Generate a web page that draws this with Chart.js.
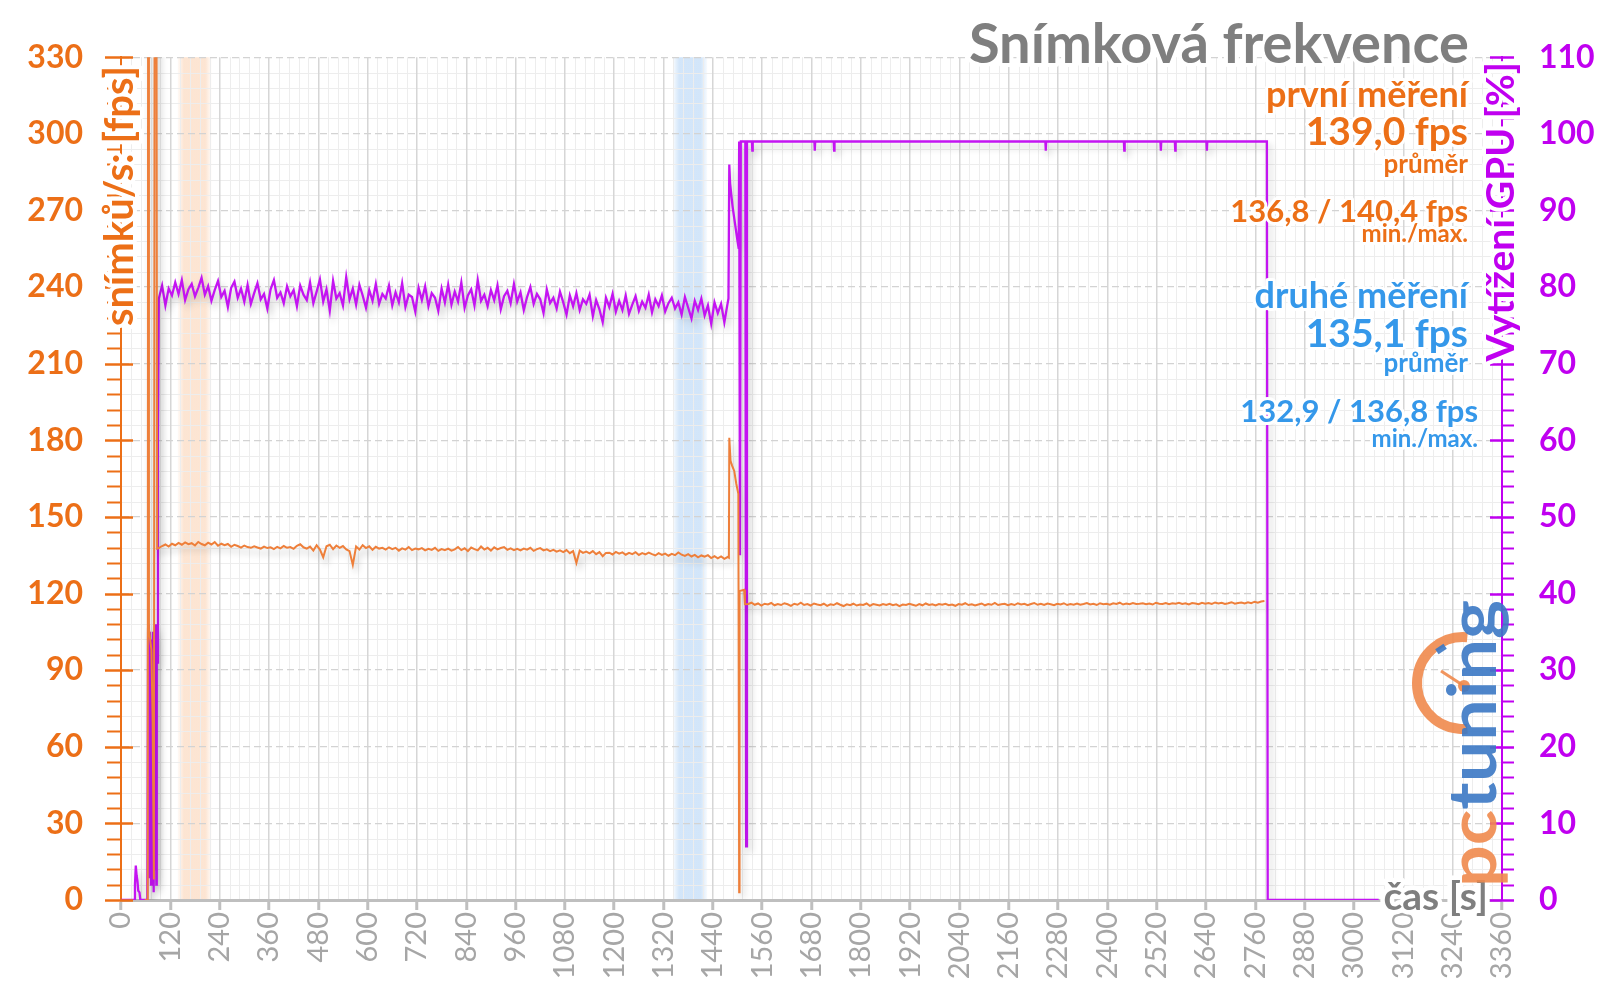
<!DOCTYPE html>
<html>
<head>
<meta charset="utf-8">
<title>Snímková frekvence</title>
<script src="https://cdn.jsdelivr.net/npm/chart.js@4.4.1/dist/chart.umd.min.js"></script>
<style>
  html, body { margin: 0; padding: 0; background: #fff; }
  #wrap { width: 1600px; height: 998px; }
</style>
</head>
<body>
<div id="wrap"><canvas id="chart" width="1600" height="998"></canvas></div>
<script>
// ---- values ----
const timeMax = 3360;
const timeStep = 120;
const fpsMax = 330;
const fpsStep = 30;
const gpuMax = 110;
const gpuStep = 10;

// fps (orange) - start-up spikes, [s] / [fps]
const fpsLeadTime = [58, 65, 66, 68, 71, 74, 77, 80, 82, 86, 88];
const fpsLeadValue = [0, 0, 400, 106, 102, 98, 70, 8, 400, 400, 137.6];

// first run, one sample every 8 s from 92 s
const runStart = 92;
const runStep = 8;
const fpsRun1 = [
  137.8, 138.6, 139.2, 138.4, 139.5, 138.9, 139.8, 139.1, 140.0, 139.3,
  139.7, 138.8, 140.2, 139.4, 138.9, 139.9, 139.2, 140.1, 138.7, 139.5,
  138.9, 139.4, 138.3, 139.1, 138.6, 138.0, 138.8, 138.2, 137.9, 138.5,
  138.0, 137.6, 138.4, 137.8, 138.1, 137.4, 138.3, 137.7, 138.6, 137.9,
  138.2, 137.5, 138.7, 139.3, 138.1, 137.6, 138.4, 136.8, 138.9, 137.2,
  134.2, 138.5, 139.1, 137.4, 138.8, 137.9, 138.6, 137.3, 136.6, 131.2,
  138.4, 137.2, 138.9, 137.8, 138.5, 137.1, 138.3, 137.6, 137.9, 137.2,
  138.1, 137.4, 137.9, 136.8, 137.7, 137.2, 138.2, 137.0, 137.6, 137.3,
  137.8, 136.9, 137.5, 137.1, 137.9, 136.7, 137.4, 137.0, 137.6, 136.8,
  137.3, 138.2, 137.0, 137.7, 136.6, 138.0, 137.4, 136.9, 138.4, 137.2,
  137.9, 136.8, 138.1, 137.3, 137.8, 138.2, 137.1, 137.7, 137.0, 137.5,
  136.9, 137.6, 137.2, 137.9, 136.7, 137.4, 137.8, 136.9, 137.3, 136.6,
  137.1, 136.4, 136.9, 136.2, 137.0, 135.8, 136.6, 132.0, 136.8, 135.9,
  136.4, 135.7, 136.6, 135.4, 136.2, 134.6, 135.9, 136.0, 135.3, 136.3,
  135.6, 136.1, 135.2, 135.9, 135.4, 136.2, 135.1, 135.8, 135.3, 136.0,
  135.4, 134.9, 135.8, 135.1, 135.6, 134.8, 135.5, 135.0, 136.1, 135.2,
  134.7, 135.4, 134.5, 135.1, 134.2, 134.9, 134.4, 135.0, 133.9, 134.6,
  133.8, 134.5, 133.6, 134.3
];

// switch-over between the two measurements
const fpsMidTime = [1479, 1480, 1483, 1487, 1492, 1497, 1502, 1504, 1505, 1516, 1518];
const fpsMidValue = [134.0, 181, 172, 170, 168, 163, 159, 3, 121, 121.5, 115.8];

// second run, one sample every 8 s from 1526 s
const run2Start = 1526;
const fpsRun2 = [
  115.9, 116.4, 115.6, 116.1, 115.3, 116.0, 115.7, 116.3, 115.4, 115.9,
  115.5, 116.2, 115.8, 115.2, 116.0, 115.6, 116.4, 115.5, 115.9, 115.3,
  116.1, 115.7, 115.4, 116.0, 115.2, 115.8, 115.5, 116.2, 115.6, 115.1,
  115.8, 115.4, 116.0, 115.3, 115.7, 115.5, 116.1, 115.2, 115.9, 115.6,
  115.3, 115.9, 115.5, 116.0, 115.4, 115.8, 115.1, 115.7, 115.5, 116.0,
  115.6, 115.2, 115.9, 115.4, 116.1, 115.5, 115.8, 115.3, 115.9, 115.6,
  116.0, 115.4, 115.7, 115.2, 115.9, 115.6, 116.2, 115.5, 115.8, 115.3,
  115.7, 116.1, 115.4, 115.9, 115.6, 116.3, 115.5, 115.8, 116.0, 115.4,
  115.9, 115.5, 116.2, 115.7, 116.0, 115.4, 115.9, 116.3, 115.6, 116.0,
  115.5, 116.1, 115.8, 115.4, 116.0, 115.7, 116.2, 115.5, 115.9, 115.6,
  116.1, 115.6, 115.9, 116.3, 115.7, 116.0, 115.5, 116.2, 115.8, 116.0,
  115.6, 116.2, 115.9, 116.4, 115.7, 116.1, 115.8, 116.3, 115.9, 116.0,
  116.2, 115.8, 116.1, 115.7, 116.4, 116.0, 115.9, 116.3, 115.8, 116.2,
  116.0, 116.4, 115.9, 116.2, 115.7, 116.3, 116.1, 115.8, 116.4, 116.0,
  116.3, 115.9, 116.5, 116.1, 116.4, 115.9, 116.2, 116.6, 116.0, 116.3,
  116.5, 116.1, 116.6, 116.2, 116.8, 116.4, 116.9, 117.1
];

// GPU load (purple) - start-up, [s] / [%]
const gpuLeadTime = [0, 32, 34, 36, 38, 40, 42, 45, 47, 64, 66, 67, 68, 69, 70, 71, 72, 73, 74, 75, 76, 77, 78, 79, 80, 81, 82, 83, 84, 85, 86, 87, 88, 90];
const gpuLeadValue = [0, 0, 2, 4.5, 3.2, 2.5, 1.2, 1, 0, 0, 36, 31, 34, 3, 35, 30, 33, 2, 34, 32, 8, 33, 35, 1, 31, 34, 30, 4, 33, 36, 2, 34, 31, 60];

// first run, same sampling as fpsRun1
const gpuRun1 = [
  78.5, 80.2, 77.6, 79.8, 78.9, 80.6, 79.1, 80.9, 78.3, 79.7,
  80.4, 78.8, 79.9, 81.2, 79.0, 80.1, 78.2, 79.6, 80.8, 78.7,
  79.5, 77.4, 79.9, 80.7, 78.6, 79.8, 78.1, 80.3, 77.8, 79.2,
  80.5, 78.4, 79.1, 77.2, 79.7, 80.9, 78.6, 79.3, 77.9, 80.1,
  78.8, 79.6, 77.5, 80.2, 79.0, 78.3, 80.6, 77.9, 79.4, 81.0,
  78.1, 79.7, 76.9, 80.8, 78.5, 79.2, 77.6, 81.3, 78.4, 79.8,
  77.7, 80.3, 78.9, 77.3, 79.6, 78.2, 80.4, 77.8, 79.1, 78.5,
  80.2, 77.6, 79.3, 78.0, 80.5, 77.4, 79.0, 78.7, 76.8, 79.9,
  78.3, 80.1, 77.5, 79.2, 78.6, 76.9, 79.8, 78.0, 80.3, 77.7,
  79.4, 78.1, 80.6, 77.3, 78.9, 79.7, 77.6, 80.9, 78.2, 79.0,
  77.5, 79.6, 78.3, 80.2, 77.1, 78.8, 79.5, 77.9, 80.4, 78.1,
  79.3, 77.0, 78.7, 80.0, 77.8, 79.1, 78.4, 76.6, 79.7, 77.9,
  78.6, 77.2, 79.4, 78.0, 76.4, 78.9, 77.5, 79.2, 77.0, 78.4,
  77.8, 79.0, 76.2, 78.3, 77.1, 75.4, 78.6, 77.4, 79.1, 76.8,
  78.2, 77.0, 78.9, 76.5, 77.7, 78.8, 76.9, 78.1, 77.3, 79.0,
  76.7, 78.4, 77.5, 78.9, 76.8, 77.9, 78.6, 77.2, 78.0, 76.4,
  78.7, 77.3, 75.9, 78.2, 77.0, 78.5, 76.3, 77.6, 75.2, 78.0,
  76.6, 77.8, 75.4, 77.9
];

// switch-over, second run at ~99 % with a few small dips, then idle
const gpuTailTime = [1478, 1480, 1482, 1485, 1488, 1492, 1496, 1500, 1503,
  1504, 1506, 1508, 1519, 1521, 1523,
  1535, 1536, 1537, 1687, 1688, 1689, 1734, 1735, 1736, 2249, 2250, 2251,
  2440, 2441, 2442, 2529, 2530, 2531, 2564, 2565, 2566, 2641, 2642, 2643,
  2788, 2790, 3060];
const gpuTailValue = [78.5, 96, 93.5, 92, 90.5, 89, 87.5, 86, 85,
  99, 45, 99, 99, 7, 99,
  99, 97.8, 99, 99, 97.8, 99, 99, 97.8, 99, 99, 97.8, 99,
  99, 97.8, 99, 99, 97.8, 99, 99, 97.8, 99, 99, 97.8, 99,
  99, 0, 0];

// measured windows (shaded bands), [s]
const bandFrom = [138, 1343];
const bandTo = [220, 1426];

// ---- styles ----
const ORANGE = '#EC6F17';
const ORANGE_LINE = '#EE7F3A';
const PURPLE = '#C000F0';
const PURPLE_LINE = '#C414F2';
const BLUE = '#3598EA';
const GRAY = '#7F7F7F';
const bandRgb = ['252,226,206', '206,227,249'];
const minorTime = 24;
const minorFps = 6;
const minorGpu = 2;

Chart.defaults.font.family = 'Lato';

function pairPoints(times, values) {
    return times.map((t, i) => ({ x: t, y: values[i] }));
}
function runPoints(start, step, values) {
    return values.map((v, i) => ({ x: start + i * step, y: v }));
}

const fpsPoints = [
    ...pairPoints(fpsLeadTime, fpsLeadValue),
    ...runPoints(runStart, runStep, fpsRun1),
    ...pairPoints(fpsMidTime, fpsMidValue),
    ...runPoints(run2Start, runStep, fpsRun2)
];
const gpuPoints = [
    ...pairPoints(gpuLeadTime, gpuLeadValue),
    ...runPoints(runStart, runStep, gpuRun1),
    ...pairPoints(gpuTailTime, gpuTailValue)
];

function haloText(ctx, text, x, y, font, color, align, halo) {
    ctx.font = font;
    ctx.textAlign = align;
    ctx.textBaseline = 'alphabetic';
    ctx.lineJoin = 'round';
    ctx.lineWidth = halo;
    ctx.strokeStyle = '#fff';
    ctx.strokeText(text, x, y);
    ctx.fillStyle = color;
    ctx.fillText(text, x, y);
}

const shadowPlugin = {
    id: 'shadow',
    beforeDatasetDraw(chart) {
        const ctx = chart.ctx;
        ctx.save();
        ctx.shadowColor = 'rgba(0,0,0,0.22)';
        ctx.shadowBlur = 7;
        ctx.shadowOffsetX = 3;
        ctx.shadowOffsetY = 5;
    },
    afterDatasetDraw(chart) {
        chart.ctx.restore();
    }
};

const decorPlugin = {
    id: 'decor',
    beforeDraw(chart) {
        const { ctx, chartArea: a, scales: { x, y } } = chart;
        ctx.save();
        // shaded measuring windows
        bandFrom.forEach((from, i) => {
            const x0 = x.getPixelForValue(from);
            const x1 = x.getPixelForValue(bandTo[i]);
            const g = ctx.createLinearGradient(x0, 0, x1, 0);
            g.addColorStop(0, 'rgba(' + bandRgb[i] + ',0.15)');
            g.addColorStop(0.18, 'rgba(' + bandRgb[i] + ',0.9)');
            g.addColorStop(0.82, 'rgba(' + bandRgb[i] + ',0.9)');
            g.addColorStop(1, 'rgba(' + bandRgb[i] + ',0.15)');
            ctx.fillStyle = g;
            ctx.fillRect(x0, a.top, x1 - x0, a.bottom - a.top);
        });
        // minor grid
        ctx.strokeStyle = '#EDEDED';
        ctx.lineWidth = 1;
        ctx.beginPath();
        for (let t = minorTime; t < timeMax; t += minorTime) {
            if (t % timeStep === 0) continue;
            const px = Math.round(x.getPixelForValue(t)) + 0.5;
            ctx.moveTo(px, a.top);
            ctx.lineTo(px, a.bottom);
        }
        for (let v = minorFps; v < fpsMax; v += minorFps) {
            if (v % fpsStep === 0) continue;
            const py = Math.round(y.getPixelForValue(v)) + 0.5;
            ctx.moveTo(a.left, py);
            ctx.lineTo(a.right, py);
        }
        ctx.stroke();
        ctx.restore();
    },
    afterDraw(chart) {
        const { ctx, chartArea: a, scales: { y, y2 } } = chart;
        ctx.save();

        // tick marks on both value axes
        ctx.lineCap = 'butt';
        ctx.strokeStyle = ORANGE;
        for (let v = 0; v <= fpsMax; v += minorFps) {
            const py = Math.round(y.getPixelForValue(v)) + 0.5;
            const major = v % fpsStep === 0;
            ctx.lineWidth = major ? 2.5 : 2;
            ctx.beginPath();
            ctx.moveTo(major ? 105 : 107, py);
            ctx.lineTo(major ? 133 : a.left, py);
            ctx.stroke();
        }
        ctx.strokeStyle = PURPLE;
        for (let v = 0; v <= gpuMax; v += minorGpu) {
            const py = Math.round(y2.getPixelForValue(v)) + 0.5;
            const major = v % gpuStep === 0;
            ctx.lineWidth = major ? 2.5 : 2;
            ctx.beginPath();
            ctx.moveTo(major ? a.right - 12 : a.right, py);
            ctx.lineTo(a.right + 12, py);
            ctx.stroke();
        }

        // axis titles
        ctx.save();
        ctx.translate(133, 66);
        ctx.rotate(-Math.PI / 2);
        haloText(ctx, 'snímků/s: [fps]', 0, 0, 'bold 40px Lato', ORANGE, 'right', 8);
        ctx.restore();

        ctx.save();
        ctx.translate(1514, 62);
        ctx.rotate(-Math.PI / 2);
        haloText(ctx, 'Vytížení GPU [%]', 0, 0, 'bold 39px Lato', PURPLE, 'right', 8);
        ctx.restore();

        haloText(ctx, 'čas [s]', 1488, 910, 'bold 39px Lato', GRAY, 'right', 9);

        // chart title
        haloText(ctx, 'Snímková frekvence', 1469, 63, 'bold 56px Lato', GRAY, 'right', 8);

        // results
        haloText(ctx, 'první měření', 1468, 107, 'bold 36px Lato', ORANGE, 'right', 6);
        haloText(ctx, '139,0 fps', 1468, 145, 'bold 39px Lato', ORANGE, 'right', 6);
        haloText(ctx, 'průměr', 1468, 173, 'bold 26px Lato', ORANGE, 'right', 6);
        haloText(ctx, '136,8 / 140,4 fps', 1468, 222, 'bold 31px Lato', ORANGE, 'right', 6);
        haloText(ctx, 'min./max.', 1468, 242, 'bold 24px Lato', ORANGE, 'right', 6);

        haloText(ctx, 'druhé měření', 1468, 308, 'bold 36px Lato', BLUE, 'right', 6);
        haloText(ctx, '135,1 fps', 1468, 347, 'bold 39px Lato', BLUE, 'right', 6);
        haloText(ctx, 'průměr', 1468, 372, 'bold 26px Lato', BLUE, 'right', 6);
        haloText(ctx, '132,9 / 136,8 fps', 1478, 422, 'bold 31px Lato', BLUE, 'right', 6);
        haloText(ctx, 'min./max.', 1478, 447, 'bold 24px Lato', BLUE, 'right', 6);

        // pctuning logo
        ctx.globalAlpha = 0.9;
        ctx.strokeStyle = '#F08A4C';
        ctx.lineWidth = 10;
        ctx.beginPath();
        ctx.arc(1463, 683, 46, -Math.PI * 0.47, Math.PI * 0.47, true);
        ctx.stroke();
        ctx.lineWidth = 3;
        ctx.beginPath();
        ctx.moveTo(1441, 671);
        ctx.lineTo(1464, 686);
        ctx.stroke();
        ctx.fillStyle = '#F08A4C';
        ctx.beginPath();
        ctx.arc(1464, 686, 6, 0, Math.PI * 2);
        ctx.fill();
        ctx.fillStyle = '#3B78C4';
        ctx.save();
        ctx.translate(1441, 649);
        ctx.rotate(-0.6);
        ctx.fillRect(-5, -3, 10, 6);
        ctx.restore();

        ctx.save();
        ctx.translate(1496, 887);
        ctx.rotate(-Math.PI / 2);
        ctx.font = 'bold 66px Lato';
        ctx.textAlign = 'left';
        ctx.textBaseline = 'alphabetic';
        const w = ctx.measureText('pctuning').width;
        ctx.scale(287 / w, 1);
        ctx.fillStyle = '#F08A4C';
        ctx.fillText('pc', 0, 0);
        ctx.fillStyle = '#3B78C4';
        ctx.fillText('tuning', ctx.measureText('pc').width, 0);
        ctx.restore();

        ctx.restore();
    }
};

new Chart(document.getElementById('chart'), {
    type: 'line',
    data: {
        datasets: [
            {
                label: 'snímků/s',
                data: fpsPoints,
                yAxisID: 'y',
                borderColor: ORANGE_LINE,
                borderWidth: 2,
                pointRadius: 0,
                tension: 0
            },
            {
                label: 'Vytížení GPU',
                data: gpuPoints,
                yAxisID: 'y2',
                borderColor: PURPLE_LINE,
                borderWidth: 2.3,
                pointRadius: 0,
                tension: 0
            }
        ]
    },
    options: {
        responsive: false,
        animation: false,
        devicePixelRatio: 1,
        layout: { padding: { top: 53, left: 0, right: 0, bottom: 0 } },
        plugins: {
            legend: { display: false },
            tooltip: { enabled: false }
        },
        scales: {
            x: {
                type: 'linear',
                min: 0,
                max: timeMax,
                ticks: {
                    stepSize: timeStep,
                    autoSkip: false,
                    minRotation: 90,
                    maxRotation: 90,
                    padding: 2,
                    color: '#A6A6A6',
                    font: { size: 29 },
                    callback: v => String(v)
                },
                grid: {
                    color: '#D6D6D6',
                    lineWidth: 1.5,
                    tickLength: 10,
                    tickColor: '#BFBFBF',
                    tickWidth: 3
                },
                border: { color: '#BFBFBF', width: 3 },
                afterFit: s => { s.height = 98; }
            },
            y: {
                position: 'left',
                min: 0,
                max: fpsMax,
                ticks: {
                    stepSize: fpsStep,
                    padding: 38,
                    color: ORANGE,
                    font: { size: 32, weight: 'bold' }
                },
                grid: { color: '#D3D3D3', lineWidth: 1.3, drawTicks: false },
                border: { color: ORANGE, width: 2, dash: [7, 4] },
                afterFit: s => { s.width = 121; }
            },
            y2: {
                position: 'right',
                min: 0,
                max: gpuMax,
                ticks: {
                    stepSize: gpuStep,
                    padding: 37,
                    color: PURPLE,
                    font: { size: 32, weight: 'bold' }
                },
                grid: { drawOnChartArea: false, drawTicks: false },
                border: { color: PURPLE, width: 2 },
                afterFit: s => { s.width = 98; }
            }
        }
    },
    plugins: [shadowPlugin, decorPlugin]
});
</script>
</body>
</html>
